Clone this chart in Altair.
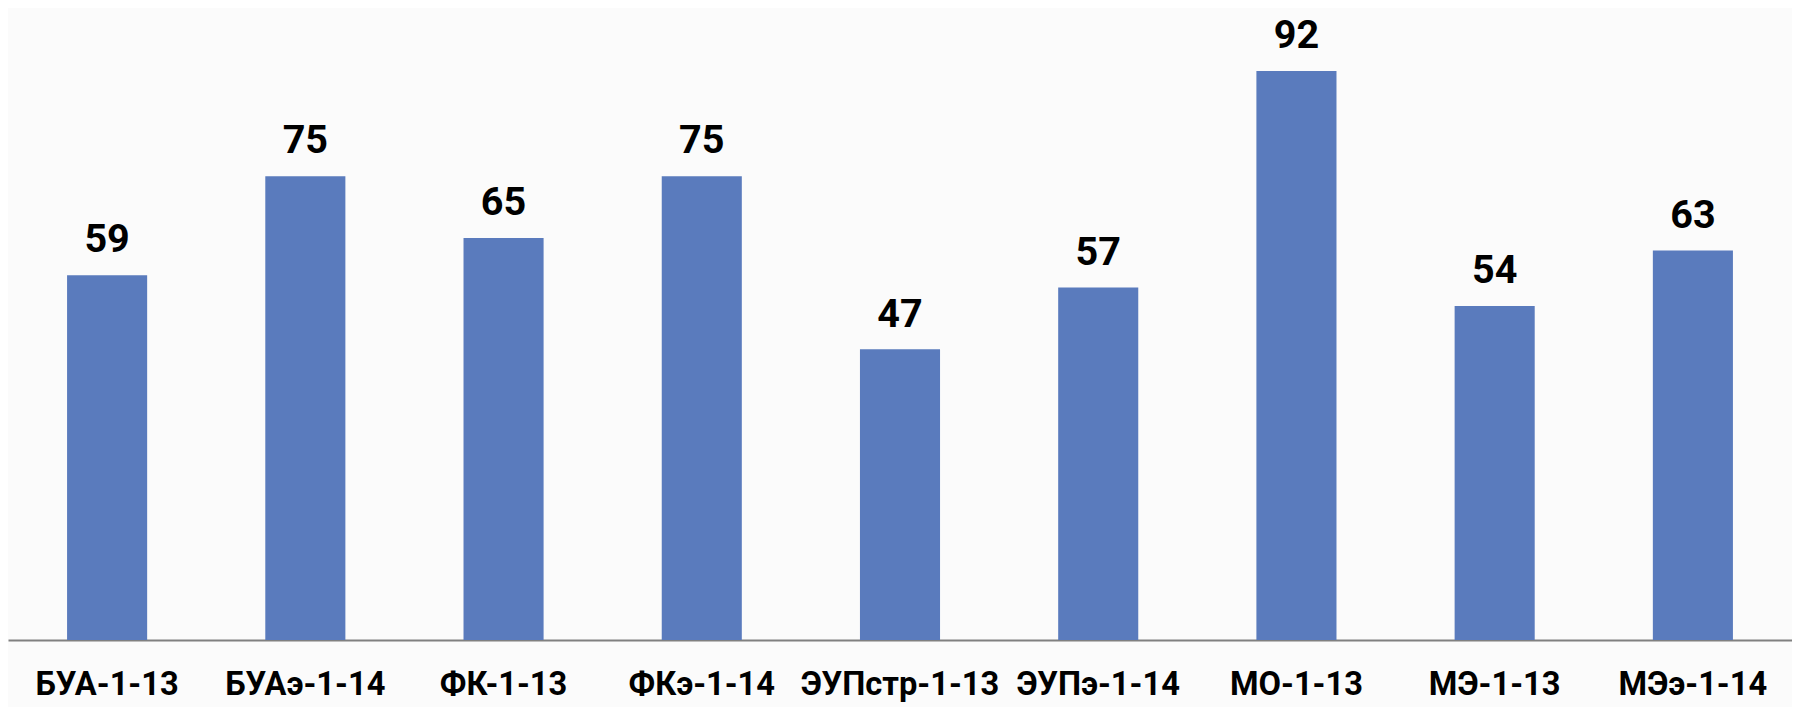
import altair as alt
import pandas as pd

groups = ["БУА-1-13", "БУАэ-1-14", "ФК-1-13", "ФКэ-1-14", "ЭУПстр-1-13",
          "ЭУПэ-1-14", "МО-1-13", "МЭ-1-13", "МЭэ-1-14"]
values = [59, 75, 65, 75, 47, 57, 92, 54, 63]

df = pd.DataFrame({"group": groups, "value": values})

FONT = "Roboto, sans-serif"

x = alt.X("group:N", sort=groups, title=None,
          scale=alt.Scale(paddingInner=0.596, paddingOuter=0.298),
          axis=alt.Axis(labelAngle=0, ticks=False, tickSize=0, domain=True,
                        domainColor="#808080", domainWidth=2,
                        labelFont=FONT, labelFontSize=33, labelFontWeight="bold",
                        labelColor="#000000", labelBaseline="alphabetic",
                        labelPadding=55, labelLimit=0, grid=False))
y = alt.Y("value:Q", title=None, scale=alt.Scale(domain=[0, 100]), axis=None)

bars = alt.Chart(df).mark_bar(color="#5a7bbd").encode(x=x, y=y)
labels = alt.Chart(df).mark_text(
    font=FONT, fontSize=40, fontWeight="bold", color="#000000",
    baseline="alphabetic", dy=-23
).encode(x=alt.X("group:N", sort=groups), y=y, text="value:Q")

chart = (bars + labels).properties(
    width=1803, height=625,
    padding={"left": 0, "right": 0, "top": 10, "bottom": 64},
    autosize=alt.AutoSizeParams(type="none"),
    background="#fbfbfb",
).configure_view(stroke=None)

chart.save("out.html", embed_options={"renderer": "svg", "actions": False})
